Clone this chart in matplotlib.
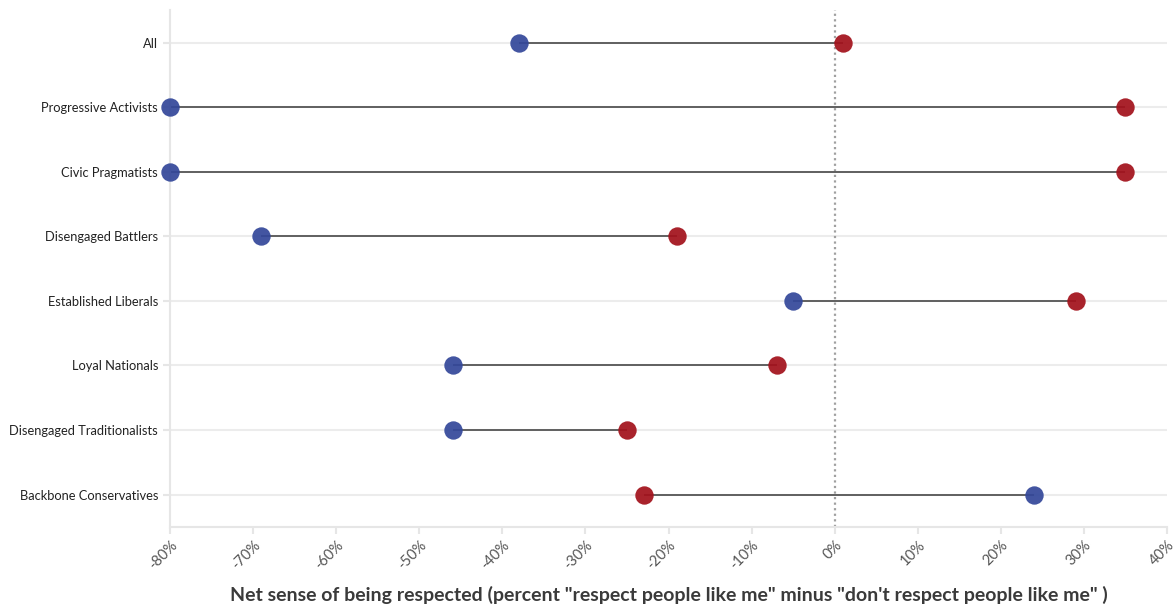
import matplotlib
matplotlib.use("Agg")
import matplotlib.pyplot as plt
import numpy as np

# === data ===
segments = ["All", "Progressive Activists", "Civic Pragmatists", "Disengaged Battlers",
            "Established Liberals", "Loyal Nationals", "Disengaged Traditionalists",
            "Backbone Conservatives"]
blue_vals = [-38, -80, -80, -69, -5, -46, -46, 24]
red_vals = [1, 35, 35, -19, 29, -7, -25, -23]
xticks = [-80, -70, -60, -50, -40, -30, -20, -10, 0, 10, 20, 30, 40]

BLUE = "#34489a"
RED = "#a3121c"

plt.rcParams["font.family"] = ["Lato", "DejaVu Sans"]

fig = plt.figure(figsize=(11.75, 6.05), dpi=100)
ax = fig.add_axes([0.1447, 0.129, 0.8485, 0.854])

y = np.arange(len(segments))

for yi in y:
    ax.axhline(yi, color="#ececec", linewidth=1.5, zorder=0)

ax.axvline(0, color="#a0a0a0", linestyle=(0, (1, 1.5)), linewidth=1.6, zorder=1)

ax.hlines(y, blue_vals, red_vals, color="#555555", linewidth=1.3, zorder=2)
ax.scatter(blue_vals, y, s=175, color=BLUE, alpha=0.93, zorder=3, linewidths=0, clip_on=False)
ax.scatter(red_vals, y, s=175, color=RED, alpha=0.93, zorder=3, linewidths=0, clip_on=False)

ax.set_xlim(-80, 40)
ax.set_ylim(len(segments) - 0.5, -0.5)
ax.set_yticks(y)
ax.set_yticklabels(segments, fontsize=9.3, color="#222222")
ax.set_xticks(xticks)
ax.set_xticklabels([f"{v}%" for v in xticks], rotation=45, ha="right",
                   rotation_mode="anchor", fontsize=10.5, color="#555555")

for side in ["top", "right"]:
    ax.spines[side].set_visible(False)
for side in ["left", "bottom"]:
    ax.spines[side].set_color("#e6e6e6")
    ax.spines[side].set_linewidth(1.5)
ax.tick_params(axis="both", color="#e6e6e6", width=1.5, length=5)
ax.tick_params(axis="x", pad=3)
ax.tick_params(axis="y", pad=3.5)

ax.set_xlabel('Net sense of being respected (percent "respect people like me" minus "don\'t respect people like me" )',
              fontsize=14, fontweight="bold", color="#3a3a3a", labelpad=10)

fig.savefig("out.png", dpi=100)
